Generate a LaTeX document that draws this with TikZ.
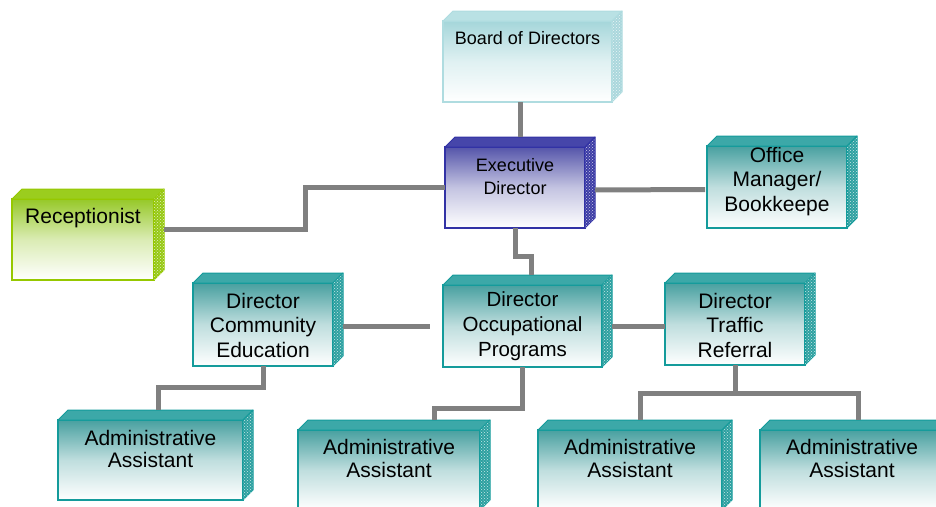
\documentclass[tikz,border=0pt]{standalone}
\usepackage{fontspec}
\setmainfont{Liberation Sans}
\usetikzlibrary{positioning,patterns,calc}

\definecolor{tlline}{RGB}{20,155,155}
\definecolor{tlfill}{RGB}{72,160,160}
\definecolor{tltop}{RGB}{60,168,168}
\definecolor{tlside}{RGB}{45,160,160}
\definecolor{bdline}{RGB}{175,220,224}
\definecolor{bdfill}{RGB}{165,214,218}
\definecolor{bdtop}{RGB}{185,225,228}
\definecolor{bdside}{RGB}{170,215,220}
\definecolor{exline}{RGB}{50,50,165}
\definecolor{exfill}{RGB}{85,85,170}
\definecolor{extop}{RGB}{70,70,170}
\definecolor{exside}{RGB}{60,60,165}
\definecolor{rcline}{RGB}{150,200,0}
\definecolor{rcfill}{RGB}{150,200,40}
\definecolor{rctop}{RGB}{155,205,30}
\definecolor{rcside}{RGB}{150,200,20}
\definecolor{wire}{RGB}{128,128,128}

% text block of a box: width, height, top gap, lines
\newcommand{\boxtxt}[4]{\parbox[c][#2pt][t]{#1pt}{\centering\vspace*{#3pt}#4}}

% top and right faces of a box
\newcommand{\boxfaces}[2]{%
  \filldraw[draw=#2line, fill=#2top, line width=1pt, line join=round]
    (#1.north west) -- ++(10pt,10pt) -- ([shift={(10pt,10pt)}]#1.north east) -- (#1.north east) -- cycle;
  \filldraw[draw=#2line, fill=#2side, line width=1pt, line join=round]
    (#1.north east) -- ++(10pt,10pt) -- ([shift={(10pt,10pt)}]#1.south east) -- (#1.south east) -- cycle;
  \fill[pattern=crosshatch dots, pattern color=white!75!#2side]
    (#1.north east) -- ++(10pt,10pt) -- ([shift={(10pt,10pt)}]#1.south east) -- (#1.south east) -- cycle;
}

\begin{document}
\begin{tikzpicture}[
    x=1pt, y=-1pt,
    orgbox/.style={draw=#1line, line width=1.5pt, top color=#1fill, bottom color=white,
      middle color=#1fill!35!white, inner sep=0pt, outer sep=0pt, anchor=north west,
      font=\fontsize{21}{24.5}\selectfont},
    conn/.style={draw=wire, line width=5pt, line join=miter},
  ]
  \useasboundingbox (0,0) rectangle (936,506);
  \clip (0,0) rectangle (936,506);

  % boxes
  \node[orgbox=bd, font=\fontsize{18}{21}\selectfont] (board) at (443,21)
    {\boxtxt{169}{81}{10.5}{Board of Directors}};
  \node[orgbox=ex, font=\fontsize{18}{23}\selectfont] (exec) at (445,147)
    {\boxtxt{140}{81}{11.5}{Executive\\Director}};
  \node[orgbox=rc] (recep) at (12,199) {\boxtxt{142}{81}{9}{Receptionist}};
  \node[orgbox=tl] (office) at (707,146) {\boxtxt{140}{82}{1}{Office\\Manager/\\Bookkeepe}};
  \node[orgbox=tl] (comm) at (193,283) {\boxtxt{140}{83}{10}{Director\\Community\\Education}};
  \node[orgbox=tl, font=\fontsize{20.5}{25}\selectfont] (occ) at (443,285)
    {\boxtxt{159}{82}{7}{Director\\Occupational\\Programs}};
  \node[orgbox=tl] (traffic) at (665,283) {\boxtxt{140}{82}{10}{Director\\Traffic\\Referral}};
  \node[orgbox=tl, font=\fontsize{21}{22.5}\selectfont] (adm1) at (58,420)
    {\boxtxt{185}{80}{10}{Administrative\\Assistant}};
  \node[orgbox=tl, font=\fontsize{21}{22.5}\selectfont] (adm2) at (298,430)
    {\boxtxt{182}{80}{9.5}{Administrative\\Assistant}};
  \node[orgbox=tl, font=\fontsize{21}{22.5}\selectfont] (adm3) at (538,430)
    {\boxtxt{184}{80}{9.5}{Administrative\\Assistant}};
  \node[orgbox=tl, font=\fontsize{21}{22.5}\selectfont] (adm4) at (760,430)
    {\boxtxt{184}{80}{9.5}{Administrative\\Assistant}};

  \boxfaces{board}{bd}
  \boxfaces{exec}{ex}
  \boxfaces{recep}{rc}
  \foreach \b in {office,comm,occ,traffic,adm1,adm2,adm3,adm4}
    {\boxfaces{\b}{tl}}

  % connectors
  \draw[conn] ($(exec.north |- board.south)+(5pt,0)$) -- ($(exec.north)+(5pt,10pt)$);
  \draw[conn] ($(recep.east)+(10pt,10pt)$) -| ($(exec.west)+(-140pt,0)$) -- (exec.west);
  \draw[conn] ($(exec.east)+(10pt,-2.5pt)$) -- ($(office.west)+(-2pt,-2.5pt)$);
  \draw[conn] (exec.south) -- ++(0,28) -| ($(occ.north)+(8.5pt,10pt)$);
  \draw[conn] ($(comm.east)+(10pt,-1.5pt)$) -- ($(occ.west)+(-13pt,0)$);
  \draw[conn] ($(occ.east)+(10pt,0)$) -- (traffic.west |- occ.east);
  \draw[conn] (comm.south) -- ++(0,21) -| ($(adm1.north)+(7.5pt,10pt)$);
  \draw[conn] (occ.south) -- ++(0,41) -| ($(adm2.north)+(45pt,10pt)$);
  \draw[conn] (traffic.south) -- ++(0,28);
  \draw[conn] ($(adm3.north)+(10pt,10pt)$) |- ($(adm4.north)+(6pt,37pt)$) -- ($(adm4.north)+(6pt,10pt)$);
\end{tikzpicture}
\end{document}
